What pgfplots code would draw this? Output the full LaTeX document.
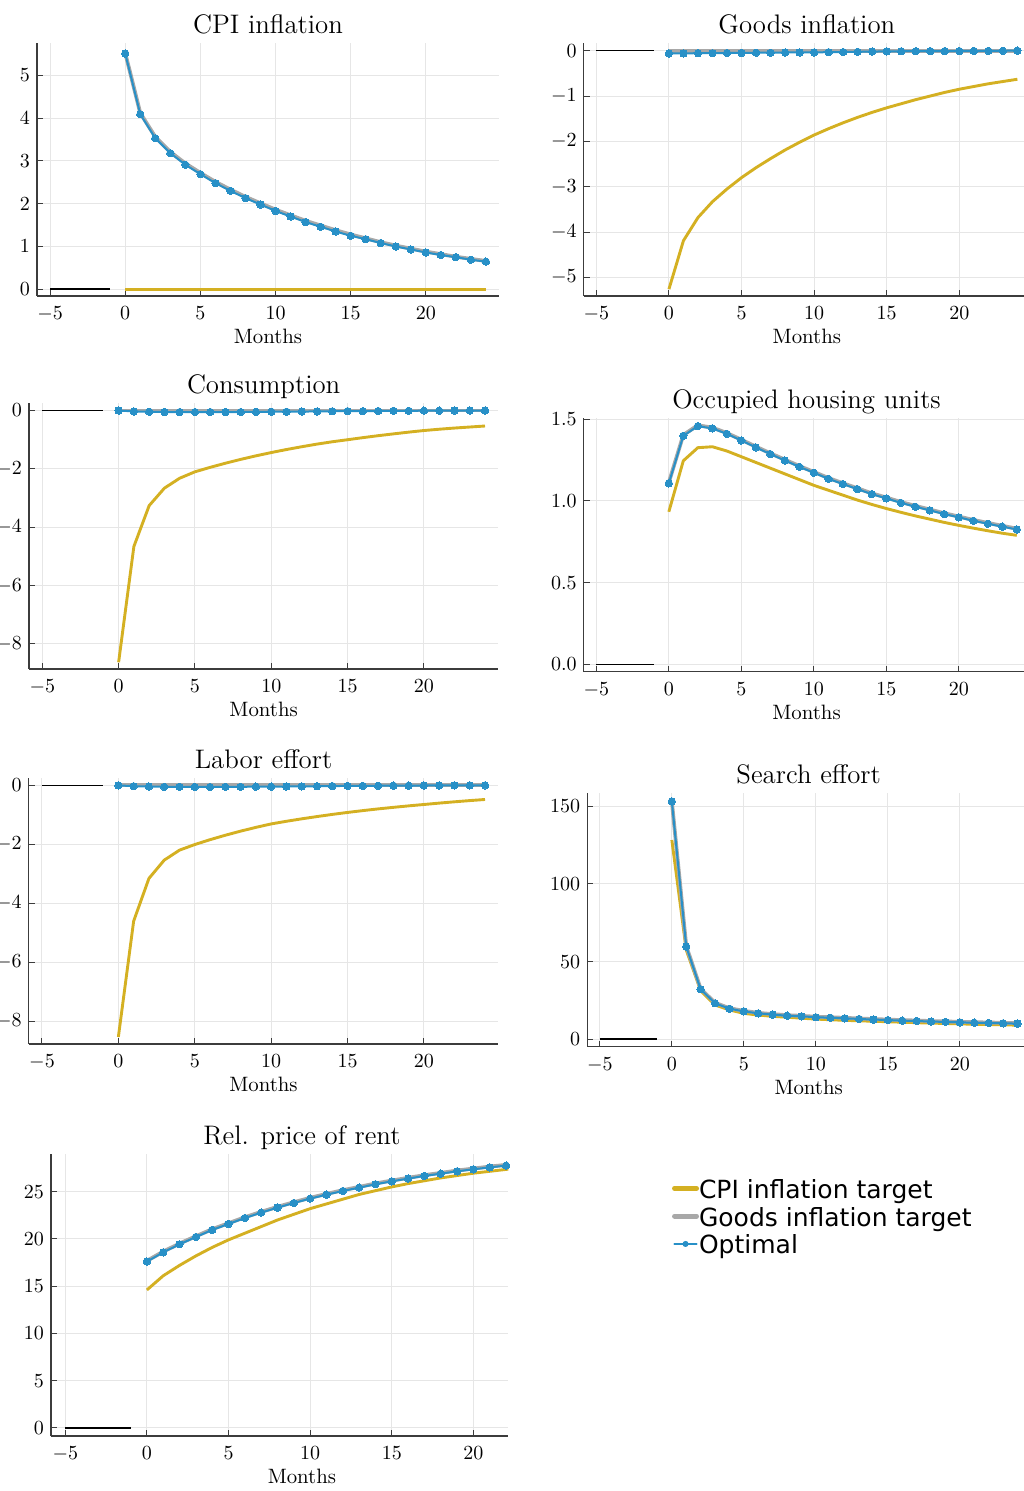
\documentclass[border=0pt]{standalone}
\usepackage{pgfplots}
\pgfplotsset{compat=1.18}
\usepackage{pgfplotstable}
\usepackage{fontspec}
\newfontfamily\legendfont{DejaVu Sans}
\definecolor{goldC}{RGB}{212,176,34}
\definecolor{grayC}{RGB}{168,168,168}
\definecolor{blueC}{RGB}{40,144,199}
\definecolor{axisC}{RGB}{60,60,60}
\definecolor{gridC}{RGB}{230,230,230}

\pgfplotsset{
  irf/.style={
    scale only axis,
    axis x line*=bottom, axis y line*=left,
    axis line style={draw=axisC, line width=0.6pt, -},
    every tick/.style={draw=axisC, line width=0.5pt},
    tick align=inside, major tick length=3pt,
    xmajorgrids, ymajorgrids,
    major grid style={draw=gridC, line width=0.5pt},
    xmin=-5.87, xmax=24.87,
    xtick={-5,0,5,10,15,20},
    tick label style={font=\fontsize{10.4}{12}\selectfont},
    xticklabel style={yshift=-1.9pt},
    xlabel={Months},
    xlabel style={at={(axis description cs:0.5,0)}, anchor=center, yshift=-20.3pt, font=\fontsize{10.4}{12}\selectfont},
    title style={at={(axis description cs:0.5,1)}, anchor=base, yshift=-1.25pt, font=\fontsize{13.4}{15}\selectfont},
  },
  goldline/.style={draw=goldC, line width=1.45pt, no markers},
  grayline/.style={draw=grayC, line width=1.9pt, no markers},
  blueline/.style={draw=blueC, line width=1pt, mark=*, mark size=1.85pt, mark options={solid, draw=blueC, fill=blueC, line width=0pt}},
  zeroline/.style={draw=black, line width=0.8pt, no markers},
}

\pgfplotstableread{
x gold gray blue
0 0 5.52 5.51
1 0 4.12 4.09
2 0 3.56 3.53
3 0 3.21 3.18
4 0 2.94 2.91
5 0 2.72 2.69
6 0 2.51 2.48
7 0 2.33 2.30
8 0 2.16 2.13
9 0 2.01 1.98
10 0 1.86 1.83
11 0 1.73 1.70
12 0 1.60 1.57
13 0 1.49 1.46
14 0 1.38 1.35
15 0 1.28 1.25
16 0 1.19 1.17
17 0 1.10 1.08
18 0 1.02 1.00
19 0 0.95 0.93
20 0 0.88 0.86
21 0 0.82 0.80
22 0 0.76 0.75
23 0 0.71 0.69
24 0 0.66 0.645
}\tabCPI

\pgfplotstableread{
x gold gray blue
0 -5.26 0 -0.06
1 -4.19 0 -0.06
2 -3.68 0 -0.055
3 -3.33 0 -0.055
4 -3.05 0 -0.05
5 -2.80 0 -0.05
6 -2.58 0 -0.045
7 -2.38 0 -0.045
8 -2.19 0 -0.04
9 -2.02 0 -0.04
10 -1.86 0 -0.037
11 -1.72 0 -0.033
12 -1.59 0 -0.03
13 -1.47 0 -0.025
14 -1.36 0 -0.02
15 -1.26 0 -0.015
16 -1.17 0 -0.013
17 -1.08 0 -0.011
18 -1.00 0 -0.009
19 -0.92 0 -0.008
20 -0.85 0 -0.007
21 -0.79 0 -0.005
22 -0.73 0 -0.004
23 -0.68 0 -0.002
24 -0.63 0 0
}\tabGoods

\pgfplotstableread{
x gold gray blue
0 -8.63 0 0
1 -4.66 0 -0.03
2 -3.26 0 -0.04
3 -2.66 0 -0.05
4 -2.32 0 -0.05
5 -2.10 0 -0.05
6 -1.947 0 -0.05
7 -1.805 0 -0.05
8 -1.674 0 -0.05
9 -1.552 0 -0.045
10 -1.44 0 -0.04
11 -1.336 0 -0.04
12 -1.24 0 -0.035
13 -1.15 0 -0.03
14 -1.07 0 -0.025
15 -1.00 0 -0.02
16 -0.929 0 -0.02
17 -0.862 0 -0.015
18 -0.80 0 -0.01
19 -0.74 0 -0.01
20 -0.685 0 -0.005
21 -0.64 0 -0.005
22 -0.60 0 0
23 -0.565 0 0
24 -0.53 0 0
}\tabCons

\pgfplotstableread{
x gold gray blue
0 0.933 1.112 1.107
1 1.245 1.403 1.398
2 1.325 1.462 1.457
3 1.331 1.448 1.443
4 1.305 1.415 1.410
5 1.270 1.374 1.369
6 1.235 1.332 1.327
7 1.200 1.291 1.286
8 1.165 1.252 1.247
9 1.130 1.213 1.208
10 1.095 1.177 1.172
11 1.065 1.140 1.135
12 1.035 1.108 1.103
13 1.005 1.077 1.072
14 0.978 1.046 1.041
15 0.953 1.020 1.015
16 0.930 0.993 0.988
17 0.908 0.969 0.964
18 0.888 0.947 0.942
19 0.868 0.924 0.919
20 0.850 0.904 0.899
21 0.833 0.883 0.878
22 0.817 0.865 0.860
23 0.802 0.847 0.842
24 0.789 0.830 0.825
}\tabHouse

\pgfplotstableread{
x gold gray blue
0 -8.54 0 0
1 -4.61 0 -0.03
2 -3.16 0 -0.04
3 -2.54 0 -0.05
4 -2.20 0 -0.05
5 -2.01 0 -0.055
6 -1.845 0 -0.055
7 -1.694 0 -0.05
8 -1.555 0 -0.05
9 -1.427 0 -0.045
10 -1.31 0 -0.045
11 -1.22 0 -0.04
12 -1.137 0 -0.035
13 -1.06 0 -0.03
14 -0.987 0 -0.025
15 -0.92 0 -0.02
16 -0.858 0 -0.02
17 -0.80 0 -0.015
18 -0.747 0 -0.01
19 -0.697 0 -0.01
20 -0.65 0 -0.005
21 -0.603 0 -0.005
22 -0.559 0 0
23 -0.518 0 0
24 -0.48 0 0
}\tabLabor

\pgfplotstableread{
x gold gray blue
0 128.3 153.2 153.2
1 57.5 60.0 59.7
2 31.3 32.5 32.2
3 22.1 23.5 23.2
4 18.9 20.0 19.7
5 16.7 18.3 18.0
6 15.6 17.0 16.7
7 14.8 16.2 15.9
8 14.2 15.5 15.2
9 13.6 15.1 14.8
10 13.0 14.5 14.2
11 12.6 14.2 13.9
12 12.2 13.8 13.5
13 11.9 13.4 13.1
14 11.6 13.0 12.7
15 11.3 12.7 12.4
16 11.0 12.3 12.0
17 10.7 12.1 11.8
18 10.4 11.7 11.4
19 10.2 11.5 11.2
20 9.9 11.2 10.9
21 9.7 11.0 10.7
22 9.5 10.8 10.5
23 9.3 10.6 10.3
24 9.1 10.4 10.1
}\tabSearch

\pgfplotstableread{
x gold gray blue
0 14.6 17.68 17.60
1 16.1 18.66 18.58
2 17.2 19.51 19.43
3 18.2 20.28 20.20
4 19.1 21.03 20.95
5 19.9 21.66 21.58
6 20.6 22.29 22.21
7 21.3 22.86 22.78
8 22.0 23.39 23.31
9 22.6 23.88 23.80
10 23.2 24.34 24.26
11 23.7 24.76 24.68
12 24.2 25.15 25.07
13 24.7 25.50 25.42
14 25.1 25.86 25.78
15 25.5 26.17 26.09
16 25.85 26.46 26.38
17 26.15 26.74 26.66
18 26.45 26.98 26.90
19 26.7 27.23 27.15
20 26.95 27.44 27.36
21 27.15 27.65 27.57
22 27.35 27.83 27.75
23 27.55 28.01 27.93
24 27.7 28.18 28.10
}\tabRent

\begin{document}
\begin{tikzpicture}
\useasboundingbox (0,0) rectangle (511.5pt,745.5pt);

% Panel 1: CPI inflation
\begin{axis}[irf, at={(18.5pt,597.5pt)}, anchor=south west,
  width=231pt, height=126.5pt,
  ymin=-0.157, ymax=5.755, ytick={0,1,2,3,4,5},
  title={CPI inflation}]
\addplot[zeroline] coordinates {(-5,0) (-1,0)};
\addplot[goldline] table[x=x,y=gold] {\tabCPI};
\addplot[grayline] table[x=x,y=gray] {\tabCPI};
\addplot[blueline] table[x=x,y=blue] {\tabCPI};
\end{axis}

% Panel 2: Goods inflation
\begin{axis}[irf, at={(291.85pt,597.5pt)}, anchor=south west,
  width=223.15pt, height=126.5pt,
  ymin=-5.41, ymax=0.17, ytick={-5,-4,-3,-2,-1,0},
  title={Goods inflation}]
\addplot[zeroline] coordinates {(-5,0) (-1,0)};
\addplot[goldline] table[x=x,y=gold] {\tabGoods};
\addplot[grayline] table[x=x,y=gray] {\tabGoods};
\addplot[blueline] table[x=x,y=blue] {\tabGoods};
\end{axis}

% Panel 3: Consumption
\begin{axis}[irf, at={(14.5pt,411pt)}, anchor=south west,
  width=234.65pt, height=133.15pt,
  ymin=-8.86, ymax=0.27, ytick={-8,-6,-4,-2,0},
  title={Consumption}]
\addplot[zeroline] coordinates {(-5,0) (-1,0)};
\addplot[goldline] table[x=x,y=gold] {\tabCons};
\addplot[grayline] table[x=x,y=gray] {\tabCons};
\addplot[blueline] table[x=x,y=blue] {\tabCons};
\end{axis}

% Panel 4: Occupied housing units
\begin{axis}[irf, at={(291.85pt,409.65pt)}, anchor=south west,
  width=222.85pt, height=126.7pt,
  ymin=-0.045, ymax=1.505, ytick={0,0.5,1,1.5},
  yticklabel style={/pgf/number format/.cd, fixed, fixed zerofill, precision=1},
  title={Occupied housing units}]
\addplot[zeroline] coordinates {(-5,0) (-1,0)};
\addplot[goldline] table[x=x,y=gold] {\tabHouse};
\addplot[grayline] table[x=x,y=gray] {\tabHouse};
\addplot[blueline] table[x=x,y=blue] {\tabHouse};
\end{axis}

% Panel 5: Labor effort
\begin{axis}[irf, at={(14.35pt,223.5pt)}, anchor=south west,
  width=234.8pt, height=133.15pt,
  ymin=-8.78, ymax=0.26, ytick={-8,-6,-4,-2,0},
  title={Labor effort}]
\addplot[zeroline] coordinates {(-5,0) (-1,0)};
\addplot[goldline] table[x=x,y=gold] {\tabLabor};
\addplot[grayline] table[x=x,y=gray] {\tabLabor};
\addplot[blueline] table[x=x,y=blue] {\tabLabor};
\end{axis}

% Panel 6: Search effort
\begin{axis}[irf, at={(293.65pt,222.15pt)}, anchor=south west,
  width=221.35pt, height=126.7pt,
  ymin=-4.76, ymax=158.4, ytick={0,50,100,150},
  title={Search effort}]
\addplot[zeroline] coordinates {(-5,0) (-1,0)};
\addplot[goldline] table[x=x,y=gold] {\tabSearch};
\addplot[grayline] table[x=x,y=gray] {\tabSearch};
\addplot[blueline] table[x=x,y=blue] {\tabSearch};
\end{axis}

% Panel 7: Rel. price of rent
\begin{axis}[irf, at={(25.5pt,27.5pt)}, anchor=south west,
  width=228.65pt, height=140.85pt,
  xmin=-5.876, xmax=22.14,
  ymin=-0.85, ymax=28.95, ytick={0,5,10,15,20,25},
  title={Rel. price of rent},
  title style={at={(axis description cs:0.5487,1)}},
  xlabel style={at={(axis description cs:0.5487,0)}}]
\addplot[zeroline] coordinates {(-5,0) (-1,0)};
\addplot[goldline] table[x=x,y=gold] {\tabRent};
\addplot[grayline] table[x=x,y=gray] {\tabRent};
\addplot[blueline] table[x=x,y=blue] {\tabRent};
\end{axis}

% Legend
\begin{axis}[at={(0pt,0pt)}, anchor=south west, scale only axis,
  width=511.5pt, height=745.5pt, hide axis,
  xmin=0, xmax=1, ymin=0, ymax=1,
  legend cell align=left,
  legend style={at={(axis description cs:0.6569,0.2123)}, anchor=north west,
    draw=none, fill=none, inner sep=0pt, outer sep=0pt,
    font=\legendfont\fontsize{12.5}{14}\selectfont,
    row sep=0pt, column sep=0pt,
    nodes={inner sep=0pt, text height=11.95pt, text depth=1.95pt}}]
\addlegendimage{legend image code/.code={\draw[goldC, line width=2.5pt, line cap=round] (0pt,0pt) -- (11pt,0pt);}}
\addlegendentry{CPI inflation target}
\addlegendimage{legend image code/.code={\draw[grayC, line width=2.5pt, line cap=round] (0pt,0pt) -- (11pt,0pt);}}
\addlegendentry{Goods inflation target}
\addlegendimage{legend image code/.code={\draw[blueC, line width=1.2pt, line cap=round] (0pt,0pt) -- (11pt,0pt); \fill[blueC] (5.5pt,0pt) circle (1.3pt);}}
\addlegendentry{Optimal}
\end{axis}
\end{tikzpicture}
\end{document}
